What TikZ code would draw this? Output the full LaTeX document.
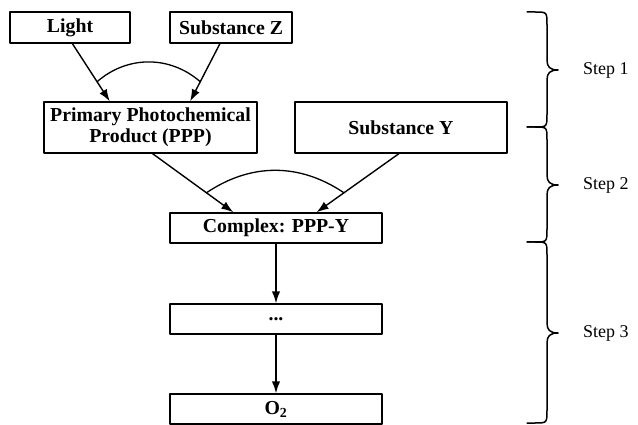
\documentclass[tikz,border=0pt]{standalone}
\usepackage{fontspec}
\setmainfont{Liberation Serif}
\usetikzlibrary{arrows.meta,calc}

\begin{document}
\begin{tikzpicture}[x=1pt,y=1pt,yscale=-1,every path/.style={join=round,cap=round},
    box/.style={draw,line width=1.4pt,inner sep=0pt,align=center,font=\fontsize{19.8}{21}\selectfont\bfseries},
    arr/.style={line width=1.4pt,-{Latex[length=12pt,width=8.5pt]}},
    hook/.style={line width=1.3pt},
    curly/.style={line width=1.5pt},
    steplabel/.style={anchor=west,inner sep=0pt,font=\fontsize{18}{20}\selectfont}]
    \useasboundingbox (0,0) rectangle (638,425);
    \node[box,minimum width=120pt,minimum height=31pt] (light) at (70,27.5) {Light};
    \node[box,minimum width=122pt,minimum height=31pt] (subz) at (231,27.5) {Substance Z};
    \node[box,minimum width=213pt,minimum height=51pt] (ppp) at (150.5,127.5) {Primary Photochemical\\Product (PPP)};
    \node[box,minimum width=212pt,minimum height=51pt] (suby) at (401,127.5) {Substance Y};
    \node[box,minimum width=212pt,minimum height=30pt] (cplx) at (276,228) {Complex: PPP-Y};
    \node[box,minimum width=212pt,minimum height=30pt] (dots) at (276,319) {...};
    \node[box,minimum width=212pt,minimum height=30pt] (otwo) at (276,409) {O\textsubscript{2}};
    \coordinate (a1) at ($(light.south west)!0.52!(light.south east)$);
    \coordinate (b1) at ($(ppp.north west)!0.31!(ppp.north east)$);
    \coordinate (a2) at ($(subz.south west)!0.41!(subz.south east)$);
    \coordinate (b2) at ($(ppp.north west)!0.685!(ppp.north east)$);
    \coordinate (a3) at ($(ppp.south west)!0.51!(ppp.south east)$);
    \coordinate (b3) at ($(cplx.north west)!0.3!(cplx.north east)$);
    \coordinate (a4) at ($(suby.south west)!0.49!(suby.south east)$);
    \coordinate (b4) at ($(cplx.north west)!0.69!(cplx.north east)$);
    \draw[arr] (a1) -- (b1);
    \draw[arr] (a2) -- (b2);
    \draw[arr] (a3) -- (b3);
    \draw[arr] (a4) -- (b4);
    \draw[hook] ($(a1)!0.66!(b1)$) to[bend right=41] ($(a2)!0.66!(b2)$);
    \draw[hook] ($(a3)!0.667!(b3)$) to[bend right=34] ($(a4)!0.667!(b4)$);
    \draw[arr] (cplx) -- (dots);
    \draw[arr] (dots) -- (otwo);
    \foreach \top/\mid/\bot/\n in {12/70/127/1,127/185/242/2,242/333/423/3}{
      \draw[curly] (527,\top) -- (535,\top) .. controls (547,\top) and (547,\top) .. (547,\top+13)
        -- (547,\mid-10) .. controls (547,\mid-3) and (550,\mid) .. (558,\mid)
        .. controls (550,\mid) and (547,\mid+3) .. (547,\mid+10)
        -- (547,\bot-13) .. controls (547,\bot) and (547,\bot) .. (535,\bot) -- (527,\bot);
      \node[steplabel] (step\n) at (583,\mid) {Step \n};
    }
\end{tikzpicture}
\end{document}
